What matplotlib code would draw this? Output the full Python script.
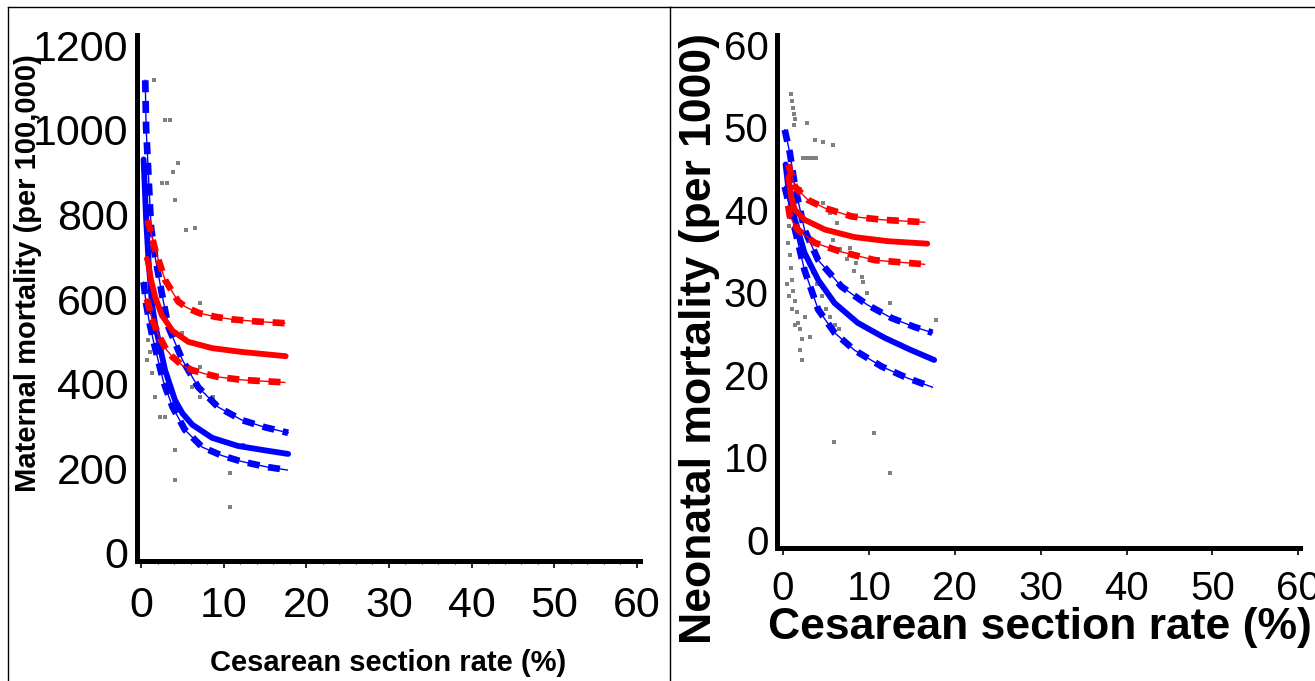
import numpy as np
import matplotlib
matplotlib.use("Agg")
import matplotlib.pyplot as plt
from matplotlib.lines import Line2D
from matplotlib.ticker import MultipleLocator

plt.rcParams['font.family'] = ['Liberation Sans', 'DejaVu Sans']

# --- maternal mortality panel (left) ---
mm_blue_x = [0.3, 0.6, 0.9, 1.3, 1.7, 2.1, 2.9, 4.1, 5.0, 6.2, 8.6, 11.7, 14.5, 17.8]
mm_blue_y = [930, 790, 690, 590, 540, 503, 432, 361, 330, 303, 272, 253, 244, 234]
mm_blue_up_x = [0.5, 0.6, 0.9, 1.2, 1.7, 2.5, 3.3, 5.0, 6.9, 9.3, 12.2, 15.0, 17.8]
mm_blue_up_y = [1117, 1006, 888, 770, 699, 614, 534, 456, 392, 345, 314, 297, 284]
mm_blue_lo_x = [0.3, 0.6, 1.0, 1.5, 2.1, 2.7, 3.8, 5.3, 7.4, 9.8, 12.0, 13.6, 15.3, 17.7]
mm_blue_lo_y = [640, 590, 545, 500, 452, 405, 345, 291, 250, 230, 217, 210, 203, 196]

mm_red_x = [0.7, 0.8, 1.2, 1.7, 2.5, 3.8, 5.7, 8.6, 12.2, 17.5]
mm_red_y = [695, 690, 645, 605, 562, 525, 499, 484, 475, 465]
mm_red_up_x = [0.8, 1.7, 2.9, 4.5, 5.5, 7.0, 9.0, 11.0, 14.0, 17.4]
mm_red_up_y = [787, 716, 645, 594, 580, 567, 558, 552, 547, 543]
mm_red_lo_x = [0.7, 1.3, 2.1, 3.0, 3.8, 5.0, 6.2, 7.8, 9.3, 12.2, 17.4]
mm_red_lo_y = [600, 555, 515, 482, 463, 443, 432, 423, 416, 409, 403]

mm_pts_x = [1.6, 2.9, 3.5, 4.5, 3.9, 2.5, 3.1, 4.1, 5.4, 6.5, 7.1, 0.8, 0.7, 1.3,
            1.7, 2.3, 2.9, 4.1, 6.2, 7.1, 8.7, 12.3, 10.7, 5.0, 7.1, 1.1, 10.8, 4.1]
mm_pts_y = [1117, 1023, 1023, 921, 900, 874, 874, 834, 763, 768, 591, 503, 456, 425,
            369, 321, 321, 243, 392, 369, 369, 255, 189, 520, 439, 475, 109, 172]

# --- neonatal mortality panel (right) ---
nm_blue_x = [0.3, 0.6, 1.0, 1.4, 2.5, 4.1, 6.0, 8.7, 11.8, 14.9, 17.6]
nm_blue_y = [45.5, 42.8, 40.6, 38.8, 34.8, 31.5, 28.7, 26.3, 24.5, 23.0, 21.8]
nm_blue_up_x = [0.2, 0.8, 1.4, 2.5, 4.1, 6.8, 9.8, 12.6, 15.3, 17.4]
nm_blue_up_y = [49.7, 46.9, 42.8, 37.6, 33.9, 30.7, 28.5, 26.9, 25.8, 25.1]
nm_blue_lo_x = [0.2, 1.4, 2.5, 4.1, 6.0, 8.3, 11.5, 14.5, 17.4]
nm_blue_lo_y = [42.8, 37.6, 32.7, 27.9, 25.1, 23.0, 21.0, 19.6, 18.5]

nm_red_x = [0.6, 1.0, 1.4, 2.5, 4.9, 8.3, 12.2, 16.8]
nm_red_y = [44.0, 41.3, 40.0, 38.8, 37.6, 36.7, 36.2, 35.9]
nm_red_up_x = [0.6, 1.4, 2.9, 4.9, 8.0, 11.5, 16.5]
nm_red_up_y = [45.5, 42.8, 41.2, 40.2, 39.2, 38.8, 38.5]
nm_red_lo_x = [0.6, 0.8, 1.7, 3.7, 6.8, 10.7, 16.5]
nm_red_lo_y = [40.5, 39.2, 37.6, 36.0, 34.9, 33.9, 33.4]

nm_pts_x = [0.9, 1.0, 1.2, 1.3, 1.4, 1.3, 2.8, 3.7, 4.6, 5.8,
            2.3, 2.7, 3.0, 3.4, 3.8,
            4.6, 5.5, 6.3, 7.0, 7.8, 8.5, 9.2, 9.8,
            5.8, 6.6, 7.5, 8.3, 9.3,
            0.6, 0.8, 0.9, 1.0, 1.2, 1.4, 1.6, 1.8, 2.0, 0.5, 0.7, 1.0, 1.4, 2.2,
            2.6, 3.1, 2.2, 2.0, 1.5, 2.0, 2.5, 3.0, 3.5, 4.0, 4.5, 5.0, 5.5, 6.0, 6.5,
            1.0, 1.5, 2.0, 0.7,
            5.9, 10.6, 12.5, 17.8, 12.5]
nm_pts_y = [54.0, 53.2, 52.4, 51.6, 51.0, 50.3, 50.5, 48.5, 48.2, 47.9,
            46.3, 46.3, 46.3, 46.3, 46.3,
            40.8, 39.6, 38.4, 37.0, 35.4, 33.5, 31.8, 29.9,
            36.4, 35.2, 34.0, 32.6, 31.2,
            36.0, 34.5, 33.0, 31.5, 30.2, 29.0, 27.6, 26.3, 25.5, 31.0, 29.5, 28.0, 26.0, 24.4,
            27.0, 24.6, 21.8, 23.0, 37.5, 36.0, 35.0, 33.5, 32.5, 31.0, 29.5, 28.0, 27.0, 26.0, 25.5,
            40.0, 41.0, 42.5, 38.0,
            11.9, 13.0, 8.1, 26.7, 28.7]

W, H = 1315, 681
fig = plt.figure(figsize=(W / 100, H / 100), dpi=100)


def px_axes(left, right, top, bottom):
    # axes box given in pixel coordinates (top-left origin)
    return fig.add_axes([left / W, (H - bottom) / H, (right - left) / W, (bottom - top) / H])


def draw_curves(ax, data):
    for x, y, style in data:
        col = 'blue' if style[0] == 'b' else 'red'
        if style[1] == '-':
            ax.plot(x, y, color=col, lw=4.2, solid_joinstyle='round', solid_capstyle='round')
        else:
            # thin connecting line with thick dashes on top
            ax.plot(x, y, color=col, lw=1.0)
            ax.plot(x, y, color=col, lw=4.8, linestyle=(0, (1.8, 1.3)))


def style_axes(ax, fs, xpad):
    for s in ['top', 'right']:
        ax.spines[s].set_visible(False)
    ax.spines['left'].set_linewidth(3.6)
    ax.spines['bottom'].set_linewidth(3.6)
    ax.tick_params(axis='y', length=0, labelsize=fs, pad=6)
    ax.tick_params(axis='x', which='major', length=5, width=1.2, labelsize=fs, pad=xpad)
    ax.tick_params(axis='x', which='minor', length=2.5, width=0.8)
    ax.set_xticks([0, 10, 20, 30, 40, 50, 60])


# left panel
ax1 = px_axes(137, 640, 35, 561)
ax1.scatter(mm_pts_x, mm_pts_y, s=9, marker='s', color='#808080', linewidths=0)
draw_curves(ax1, [(mm_blue_up_x, mm_blue_up_y, 'b:'), (mm_blue_lo_x, mm_blue_lo_y, 'b:'),
                  (mm_blue_x, mm_blue_y, 'b-'),
                  (mm_red_up_x, mm_red_up_y, 'r:'), (mm_red_lo_x, mm_red_lo_y, 'r:'),
                  (mm_red_x, mm_red_y, 'r-')])
ax1.set_xlim(-0.5, 60.4)
ax1.set_ylim(-19, 1224)
ax1.set_yticks([0, 200, 400, 600, 800, 1000, 1200])
ax1.xaxis.set_minor_locator(MultipleLocator(2))
style_axes(ax1, 31, 13)
fig.text(28 / W, 1 - 273 / H, 'Maternal mortality (per 100,000)', rotation=90,
         ha='center', va='center', fontsize=21, fontweight='bold')
fig.text(388 / W, 1 - 663 / H, 'Cesarean section rate (%)',
         ha='center', va='center', fontsize=21, fontweight='bold')

# right panel
ax2 = px_axes(777, 1300, 35, 548)
ax2.scatter(nm_pts_x, nm_pts_y, s=9, marker='s', color='#808080', linewidths=0)
draw_curves(ax2, [(nm_blue_up_x, nm_blue_up_y, 'b:'), (nm_blue_lo_x, nm_blue_lo_y, 'b:'),
                  (nm_blue_x, nm_blue_y, 'b-'),
                  (nm_red_up_x, nm_red_up_y, 'r:'), (nm_red_lo_x, nm_red_lo_y, 'r:'),
                  (nm_red_x, nm_red_y, 'r-')])
ax2.set_xlim(-0.7, 60.2)
ax2.set_ylim(-1, 61.2)
ax2.set_yticks([0, 10, 20, 30, 40, 50, 60])
style_axes(ax2, 29, 11)
fig.text(700 / W, 1 - 338 / H, 'Neonatal mortality (per 1000)', rotation=90,
         ha='center', va='center', fontsize=32, fontweight='bold')
fig.text(1040 / W, 1 - 628 / H, 'Cesarean section rate (%)',
         ha='center', va='center', fontsize=32, fontweight='bold')

# panel frames
for x0, x1 in [(8, 670), (670, W + 5)]:
    fig.add_artist(Line2D([x0 / W, x0 / W], [-0.01, 1 - 7 / H], transform=fig.transFigure,
                          color='black', lw=1))
    fig.add_artist(Line2D([x0 / W, x1 / W], [1 - 7 / H, 1 - 7 / H], transform=fig.transFigure,
                          color='black', lw=1))

fig.savefig('out.png', dpi=100)
